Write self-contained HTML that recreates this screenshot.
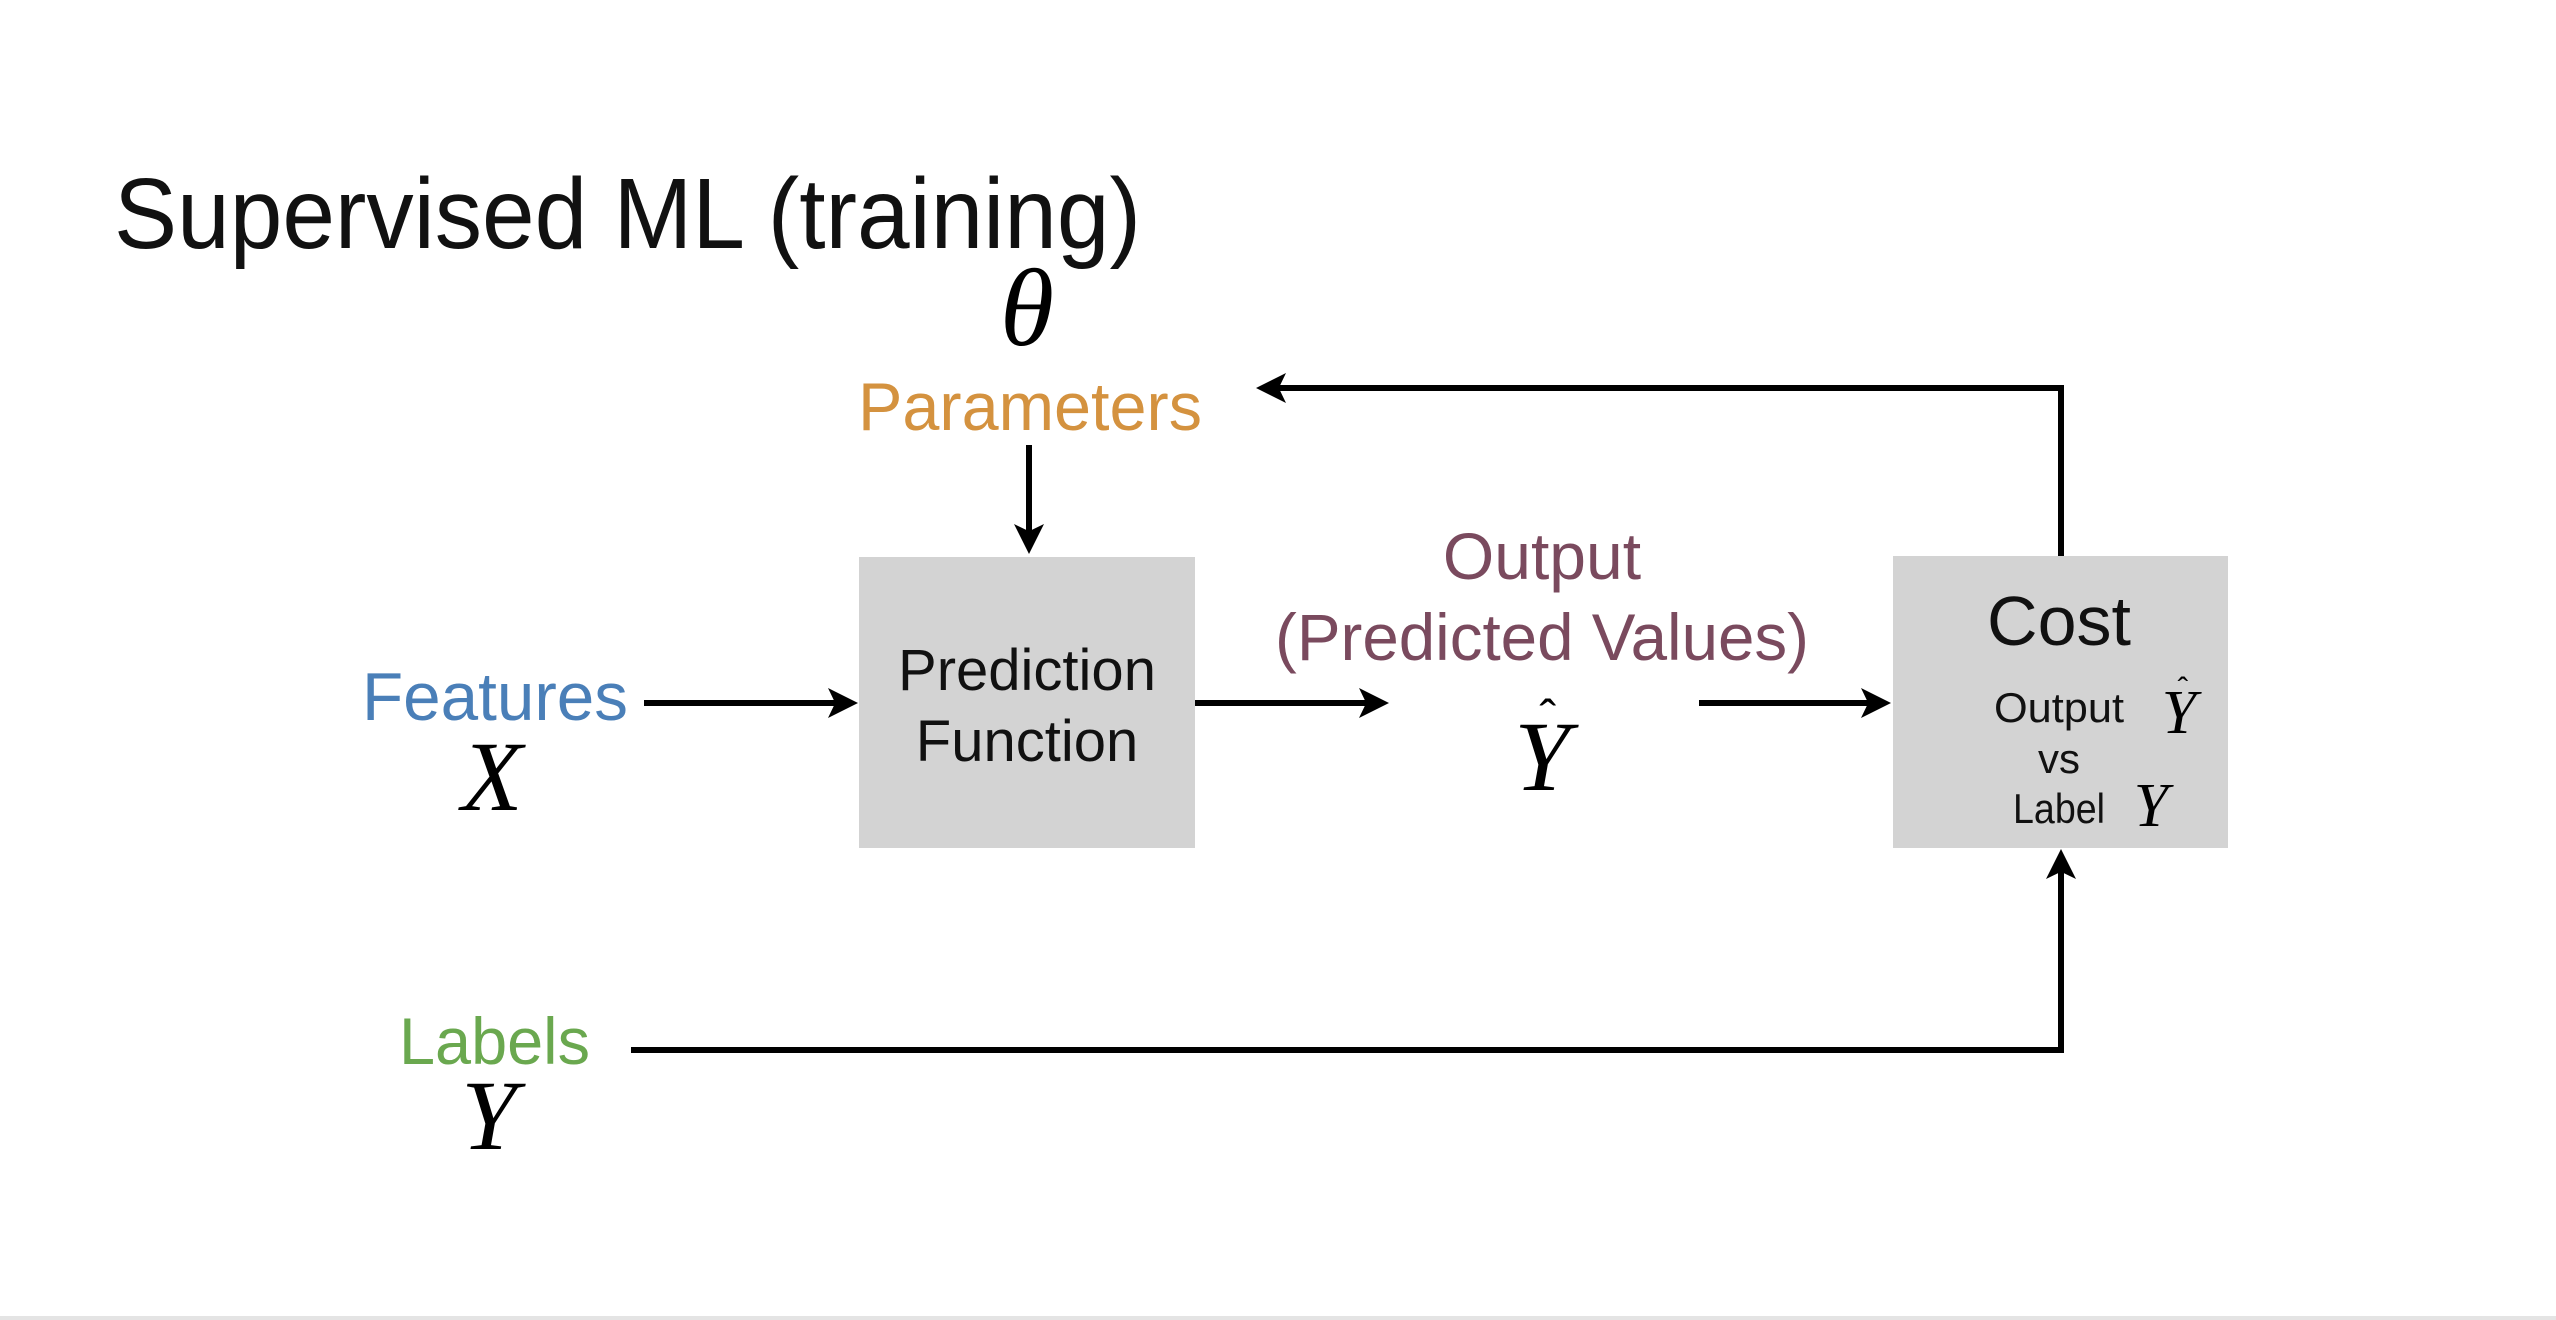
<!DOCTYPE html>
<html><head><meta charset="utf-8"><style>
html,body{margin:0;padding:0;background:#fff;}
svg{display:block}
.s{font-family:"Liberation Sans",sans-serif}
.m{font-family:"Liberation Serif",serif;font-style:italic}
</style></head><body>
<svg width="2556" height="1320" viewBox="0 0 2556 1320" xmlns="http://www.w3.org/2000/svg">
<defs>
<marker id="a" markerWidth="5" markerHeight="5" refX="4" refY="2.5" orient="auto" markerUnits="strokeWidth">
<path d="M0,0 L5,2.5 L0,5 L1.2,2.5 Z" fill="#000"/></marker>
</defs>
<rect x="0" y="1316" width="2556" height="4" fill="#e4e4e4"/>
<text class="s" x="114" y="248" font-size="100" textLength="1027" lengthAdjust="spacingAndGlyphs" fill="#111">Supervised ML (training)</text>
<text class="m" x="1027" y="345" font-size="110" text-anchor="middle" fill="#000">θ</text>
<text class="s" x="858" y="430" font-size="68" textLength="344" lengthAdjust="spacingAndGlyphs" fill="#d4923f">Parameters</text>
<line x1="1029" y1="445" x2="1029" y2="548" stroke="#000" stroke-width="6" marker-end="url(#a)"/>
<rect x="859" y="557" width="336" height="291" fill="#d3d3d3"/>
<text class="s" x="1027" y="690" font-size="58" text-anchor="middle" fill="#111">Prediction</text>
<text class="s" x="1027" y="761" font-size="58" text-anchor="middle" fill="#111">Function</text>
<text class="s" x="362" y="720" font-size="68" textLength="266" lengthAdjust="spacingAndGlyphs" fill="#4a7fb8">Features</text>
<text class="m" x="492" y="810" font-size="100" text-anchor="middle" fill="#000">X</text>
<line x1="644" y1="703" x2="852" y2="703" stroke="#000" stroke-width="6" marker-end="url(#a)"/>
<line x1="1195" y1="703" x2="1383" y2="703" stroke="#000" stroke-width="6" marker-end="url(#a)"/>
<text class="s" x="1542" y="579" font-size="66" text-anchor="middle" fill="#7a4a5e">Output</text>
<text class="s" x="1275" y="660" font-size="66" textLength="534" lengthAdjust="spacingAndGlyphs" fill="#7a4a5e">(Predicted Values)</text>
<text class="m" x="1542" y="790" font-size="100" text-anchor="middle" fill="#000">Y</text>
<text class="s" x="1548" y="735" font-size="50" text-anchor="middle" fill="#000">ˆ</text>
<line x1="1699" y1="703" x2="1885" y2="703" stroke="#000" stroke-width="6" marker-end="url(#a)"/>
<rect x="1893" y="556" width="335" height="292" fill="#d3d3d3"/>
<text class="s" x="2059" y="645" font-size="70" text-anchor="middle" fill="#111">Cost</text>
<text class="s" x="1994" y="722" font-size="42" textLength="130" lengthAdjust="spacingAndGlyphs" fill="#111">Output</text>
<text class="m" x="2179" y="733" font-size="62" text-anchor="middle" fill="#000">Y</text>
<text class="s" x="2183" y="700" font-size="32" text-anchor="middle" fill="#000">ˆ</text>
<text class="s" x="2059" y="773" font-size="42" text-anchor="middle" fill="#111">vs</text>
<text class="s" x="2013" y="823" font-size="42" textLength="92" lengthAdjust="spacingAndGlyphs" fill="#111">Label</text>
<text class="m" x="2151" y="826" font-size="62" text-anchor="middle" fill="#000">Y</text>
<polyline points="2061,556 2061,388 1262,388" fill="none" stroke="#000" stroke-width="6" marker-end="url(#a)"/>
<text class="s" x="399" y="1064" font-size="66" textLength="191" lengthAdjust="spacingAndGlyphs" fill="#6aa84f">Labels</text>
<text class="m" x="489" y="1149" font-size="100" text-anchor="middle" fill="#000">Y</text>
<polyline points="631,1050 2061,1050 2061,855" fill="none" stroke="#000" stroke-width="6" marker-end="url(#a)"/>
</svg>
</body></html>
